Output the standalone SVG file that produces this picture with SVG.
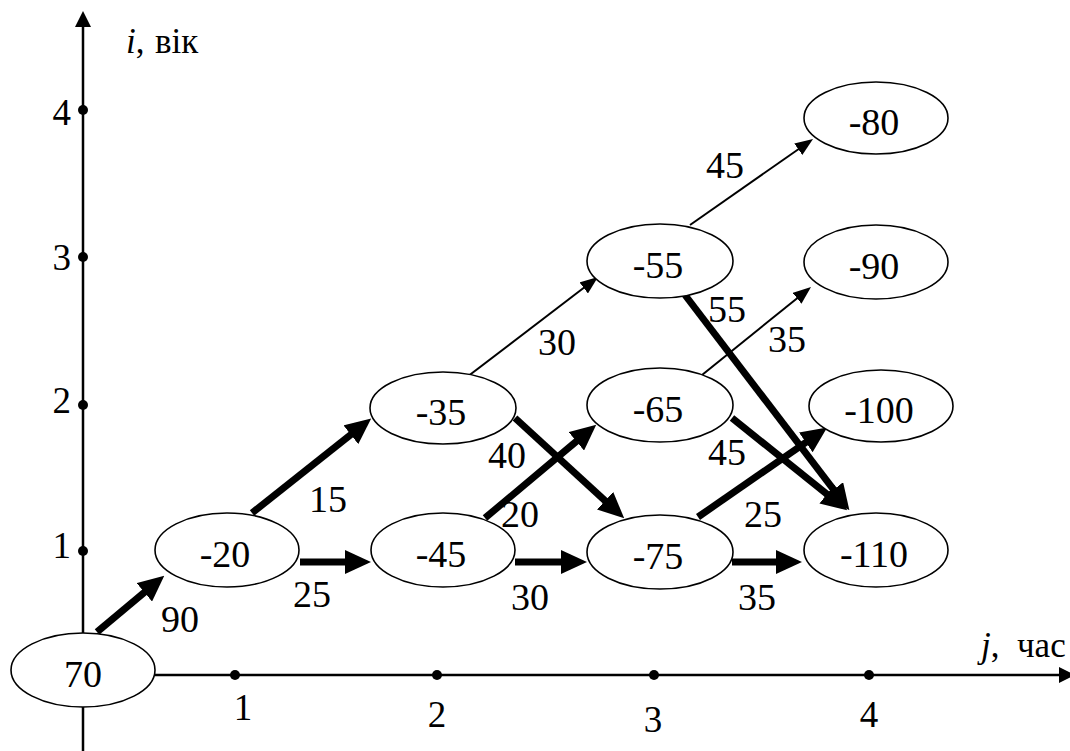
<svg xmlns="http://www.w3.org/2000/svg" width="1070" height="751" viewBox="0 0 1070 751" font-family="'Liberation Serif', 'DejaVu Serif', serif">
<style>
.ax{stroke:#000;stroke-width:2.5;fill:none}
.nd ellipse{fill:#fff;stroke:#000;stroke-width:1.6}
text{font-family:'Liberation Serif','DejaVu Serif',serif;fill:#000}
.nt{font-size:38px;text-anchor:middle}
.lb{font-size:38px;text-anchor:middle}
.tk{font-size:37px}
.al{font-size:35px}
.thick{stroke:#000;stroke-width:7;fill:none;marker-end:url(#ah)}
.thin{stroke:#000;stroke-width:2;fill:none;marker-end:url(#as)}
</style>
<defs>
<marker id="ah" markerUnits="userSpaceOnUse" markerWidth="26" markerHeight="24" viewBox="0 0 26 24" refX="1" refY="12" orient="auto"><path d="M0,0 L26,12 L0,24 z" fill="#000"/></marker>
<marker id="as" markerUnits="userSpaceOnUse" markerWidth="18" markerHeight="14" viewBox="0 0 18 14" refX="1" refY="7" orient="auto"><path d="M0,0 L18,7 L0,14 z" fill="#000"/></marker>
<marker id="aa" markerUnits="userSpaceOnUse" markerWidth="16" markerHeight="16" viewBox="0 0 16 16" refX="1" refY="8" orient="auto"><path d="M0,0 L16,8 L0,16 z" fill="#000"/></marker>
</defs>
<g id="axes">
<line class="ax" x1="83" y1="751" x2="83" y2="26" marker-end="url(#aa)"/>
<line class="ax" x1="83" y1="675" x2="1060" y2="675" marker-end="url(#aa)"/>
<circle cx="83" cy="110" r="5"/><circle cx="83" cy="257" r="5"/><circle cx="83" cy="405" r="5"/><circle cx="83" cy="551" r="5"/>
<circle cx="235" cy="675" r="5"/><circle cx="437" cy="675" r="5"/><circle cx="654" cy="675" r="5"/><circle cx="869" cy="675" r="5"/>
<text class="tk" x="71" y="125" text-anchor="end">4</text>
<text class="tk" x="71" y="270" text-anchor="end">3</text>
<text class="tk" x="71" y="413" text-anchor="end">2</text>
<text class="tk" x="71" y="558" text-anchor="end">1</text>
<text class="tk" x="243" y="720" text-anchor="middle">1</text>
<text class="tk" x="437" y="727" text-anchor="middle">2</text>
<text class="tk" x="653" y="732" text-anchor="middle">3</text>
<text class="tk" x="869" y="727" text-anchor="middle">4</text>
<text class="al" x="126" y="53"><tspan font-style="italic">i</tspan>,<tspan x="155">вік</tspan></text>
<text class="al" x="981" y="657"><tspan font-style="italic">j</tspan>,<tspan x="1017">час</tspan></text>
</g>
<g id="connectors">
<line class="thick" x1="97" y1="632" x2="145.1" y2="591.7"/>
<line class="thick" x1="252" y1="513" x2="351.6" y2="434.1"/>
<line class="thick" x1="300" y1="562" x2="346" y2="562"/>
<line class="thick" x1="485" y1="518" x2="577.1" y2="440.7"/>
<line class="thick" x1="515" y1="418" x2="605.8" y2="501.4"/>
<line class="thick" x1="515" y1="562" x2="562" y2="562"/>
<line class="thick" x1="698" y1="517" x2="806.6" y2="441.8"/>
<line class="thick" x1="732" y1="562" x2="777" y2="562"/>
<line class="thick" x1="732" y1="418" x2="827.7" y2="494.7"/>
<line class="thick" x1="685" y1="295" x2="834.2" y2="490.3"/>
<line class="thin" x1="467" y1="377" x2="584.5" y2="287.3"/>
<line class="thin" x1="690" y1="225" x2="799.1" y2="148.7"/>
<line class="thin" x1="702" y1="375" x2="797.8" y2="297.7"/>
<text class="lb" x="180" y="632">90</text>
<text class="lb" x="328" y="512">15</text>
<text class="lb" x="312" y="607">25</text>
<text class="lb" x="507" y="468">40</text>
<text class="lb" x="520" y="527">20</text>
<text class="lb" x="530" y="610">30</text>
<text class="lb" x="557" y="355">30</text>
<text class="lb" x="727" y="322">55</text>
<text class="lb" x="787" y="352">35</text>
<text class="lb" x="727" y="465">45</text>
<text class="lb" x="763" y="527">25</text>
<text class="lb" x="757" y="610">35</text>
<text class="lb" x="725" y="178">45</text>
</g>
<g id="n70" class="nd"><ellipse cx="83" cy="670" rx="72" ry="37"/><text class="nt" x="83" y="687">70</text></g>
<g id="n-20" class="nd"><ellipse cx="227" cy="550" rx="72" ry="37"/><text class="nt" x="225" y="567">-20</text></g>
<g id="n-45" class="nd"><ellipse cx="443" cy="550" rx="72" ry="37"/><text class="nt" x="441" y="567">-45</text></g>
<g id="n-35" class="nd"><ellipse cx="443" cy="408" rx="73" ry="36"/><text class="nt" x="441" y="425">-35</text></g>
<g id="n-75" class="nd"><ellipse cx="660" cy="552" rx="73" ry="37"/><text class="nt" x="658" y="569">-75</text></g>
<g id="n-65" class="nd"><ellipse cx="660" cy="405" rx="73" ry="37"/><text class="nt" x="658" y="422">-65</text></g>
<g id="n-55" class="nd"><ellipse cx="660" cy="261" rx="73" ry="37"/><text class="nt" x="658" y="278">-55</text></g>
<g id="n-80" class="nd"><ellipse cx="876" cy="118" rx="72" ry="36"/><text class="nt" x="874" y="135">-80</text></g>
<g id="n-90" class="nd"><ellipse cx="876" cy="262" rx="72" ry="37"/><text class="nt" x="874" y="279">-90</text></g>
<g id="n-100" class="nd"><ellipse cx="881" cy="406" rx="72" ry="36"/><text class="nt" x="879" y="423">-100</text></g>
<g id="n-110" class="nd"><ellipse cx="876" cy="550" rx="72" ry="37"/><text class="nt" x="874" y="567">-110</text></g>
</svg>
